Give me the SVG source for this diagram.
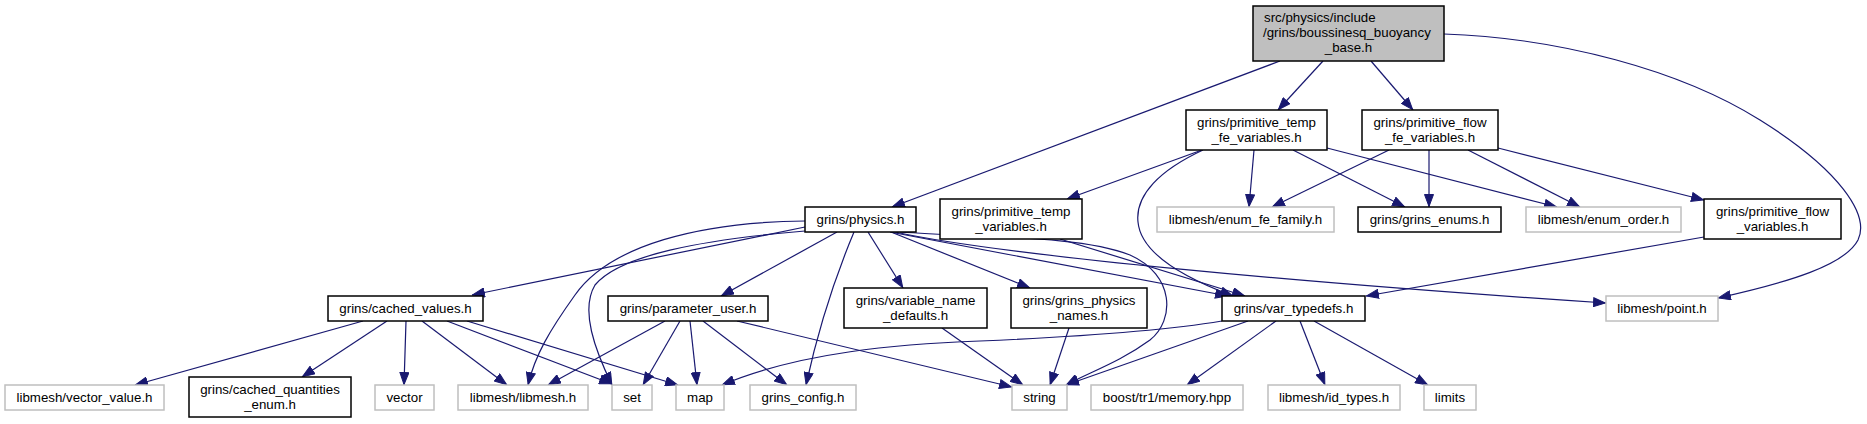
<svg xmlns="http://www.w3.org/2000/svg" width="1867" height="424" viewBox="0 0 1867 424">
<defs>
<marker id="a" viewBox="0 0 13 10" refX="13" refY="5" markerWidth="13" markerHeight="10" orient="auto" markerUnits="userSpaceOnUse"><path d="M0.5,0.5 L12.5,5 L0.5,9.5 z" fill="#191970" stroke="#191970" stroke-width="1"/></marker>
<style>
.e path{fill:none;stroke:#191970;stroke-width:1.2;marker-end:url(#a)}
.b{fill:#fff;stroke:#000;stroke-width:1.5}
.g{fill:#fff;stroke:#bfbfbf;stroke-width:1.5}
.m{fill:#bfbfbf;stroke:#000;stroke-width:1.5}
text{font-family:"Liberation Sans",Arial,sans-serif;font-size:13.3px;fill:#000;text-anchor:middle}
text.l{text-anchor:start}
</style>
</defs>
<rect width="1867" height="424" fill="#fff"/>
<g class="e" id="edges">
<path d="M1280,61 L892,207"/>
<path d="M1323,61 L1278,110"/>
<path d="M1371,61 L1413,110"/>
<path d="M1444,34 C1560,38 1680,70 1760,120 C1840,170 1870,215 1858,240 C1845,265 1790,282 1718,298"/>
<path d="M1202,150 L1067,199"/>
<path d="M1254,150 L1249,207"/>
<path d="M1293,150 L1405,207"/>
<path d="M1327,148 L1557,207"/>
<path d="M1203,150 C1160,170 1135,195 1138,222 C1141,255 1190,280 1233,296"/>
<path d="M1389,150 L1272,207"/>
<path d="M1429,150 L1429,207"/>
<path d="M1468,150 L1580,207"/>
<path d="M1498,148 L1704,200"/>
<path d="M1704,237 L1366,296"/>
<path d="M805,227 L472,295"/>
<path d="M805,221 C700,222 610,245 575,295 C550,330 535,355 528,385"/>
<path d="M805,231 C700,240 620,255 595,285 C580,310 595,350 612,385"/>
<path d="M837,232 L721,296"/>
<path d="M854,232 C836,275 818,330 806,385"/>
<path d="M868,232 L903,288"/>
<path d="M891,232 L1030,288"/>
<path d="M890,232 L1228,296"/>
<path d="M895,232 C1000,255 1300,283 1606,303"/>
<path d="M900,232 C980,238 1080,235 1130,255 C1175,275 1175,320 1150,340 C1120,362 1090,372 1066,385"/>
<path d="M1060,239 L1245,296"/>
<path d="M665,321 L548,385"/>
<path d="M680,321 L643,385"/>
<path d="M690,321 L697,385"/>
<path d="M703,321 L787,385"/>
<path d="M737,321 L1012,387"/>
<path d="M363,321 L135,385"/>
<path d="M387,321 L302,377"/>
<path d="M406,321 L404,385"/>
<path d="M422,321 L507,385"/>
<path d="M447,321 L612,384"/>
<path d="M467,321 L678,385"/>
<path d="M1222,321 C1150,333 1050,338 980,341 C900,344 800,352 722,385"/>
<path d="M1248,321 L1066,385"/>
<path d="M1276,321 L1187,385"/>
<path d="M1300,321 L1325,385"/>
<path d="M1314,321 L1428,385"/>
<path d="M942,328 L1023,385"/>
<path d="M1069,328 L1050,385"/>
</g>
<g id="n_main"><rect class="m" x="1253" y="6" width="191" height="55"/><text class="l" x="1264" y="22">src/physics/include</text><text class="l" x="1263" y="37">/grins/boussinesq_buoyancy</text><text x="1348.5" y="52">_base.h</text></g>
<g id="n_ptfe"><rect class="b" x="1186" y="110" width="141" height="40"/><text x="1256.5" y="127">grins/primitive_temp</text><text x="1256.5" y="142">_fe_variables.h</text></g>
<g id="n_pffe"><rect class="b" x="1362" y="110" width="136" height="40"/><text x="1430" y="127">grins/primitive_flow</text><text x="1430" y="142">_fe_variables.h</text></g>
<g id="n_physics"><rect class="b" x="805" y="207" width="111" height="25"/><text x="860.5" y="224">grins/physics.h</text></g>
<g id="n_ptv"><rect class="b" x="940" y="199" width="142" height="40"/><text x="1011" y="216">grins/primitive_temp</text><text x="1011" y="231">_variables.h</text></g>
<g id="n_efam"><rect class="g" x="1157" y="207" width="177" height="25"/><text x="1245.5" y="224">libmesh/enum_fe_family.h</text></g>
<g id="n_genums"><rect class="b" x="1358" y="207" width="143" height="25"/><text x="1429.5" y="224">grins/grins_enums.h</text></g>
<g id="n_eorder"><rect class="g" x="1526" y="207" width="155" height="25"/><text x="1603.5" y="224">libmesh/enum_order.h</text></g>
<g id="n_pfv"><rect class="b" x="1704" y="199" width="137" height="40"/><text x="1772.5" y="216">grins/primitive_flow</text><text x="1772.5" y="231">_variables.h</text></g>
<g id="n_cached"><rect class="b" x="328" y="296" width="155" height="25"/><text x="405.5" y="313">grins/cached_values.h</text></g>
<g id="n_param"><rect class="b" x="608" y="296" width="160" height="25"/><text x="688" y="313">grins/parameter_user.h</text></g>
<g id="n_vnd"><rect class="b" x="844" y="288" width="143" height="40"/><text x="915.5" y="305">grins/variable_name</text><text x="915.5" y="320">_defaults.h</text></g>
<g id="n_gpn"><rect class="b" x="1011" y="288" width="136" height="40"/><text x="1079" y="305">grins/grins_physics</text><text x="1079" y="320">_names.h</text></g>
<g id="n_vt"><rect class="b" x="1222" y="296" width="143" height="25"/><text x="1293.5" y="313">grins/var_typedefs.h</text></g>
<g id="n_point"><rect class="g" x="1606" y="296" width="112" height="25"/><text x="1662" y="313">libmesh/point.h</text></g>
<g id="n_vv"><rect class="g" x="5" y="385" width="159" height="25"/><text x="84.5" y="402">libmesh/vector_value.h</text></g>
<g id="n_cqe"><rect class="b" x="189" y="377" width="162" height="40"/><text x="270" y="394">grins/cached_quantities</text><text x="270" y="409">_enum.h</text></g>
<g id="n_vector"><rect class="g" x="375" y="385" width="59" height="25"/><text x="404.5" y="402">vector</text></g>
<g id="n_libmesh"><rect class="g" x="458" y="385" width="130" height="25"/><text x="523" y="402">libmesh/libmesh.h</text></g>
<g id="n_set"><rect class="g" x="612" y="385" width="40" height="25"/><text x="632" y="402">set</text></g>
<g id="n_map"><rect class="g" x="676" y="385" width="48" height="25"/><text x="700" y="402">map</text></g>
<g id="n_gconf"><rect class="g" x="750" y="385" width="106" height="25"/><text x="803" y="402">grins_config.h</text></g>
<g id="n_string"><rect class="g" x="1012" y="385" width="55" height="25"/><text x="1039.5" y="402">string</text></g>
<g id="n_boost"><rect class="g" x="1091" y="385" width="152" height="25"/><text x="1167" y="402">boost/tr1/memory.hpp</text></g>
<g id="n_idt"><rect class="g" x="1268" y="385" width="132" height="25"/><text x="1334" y="402">libmesh/id_types.h</text></g>
<g id="n_limits"><rect class="g" x="1424" y="385" width="52" height="25"/><text x="1450" y="402">limits</text></g>
</svg>
